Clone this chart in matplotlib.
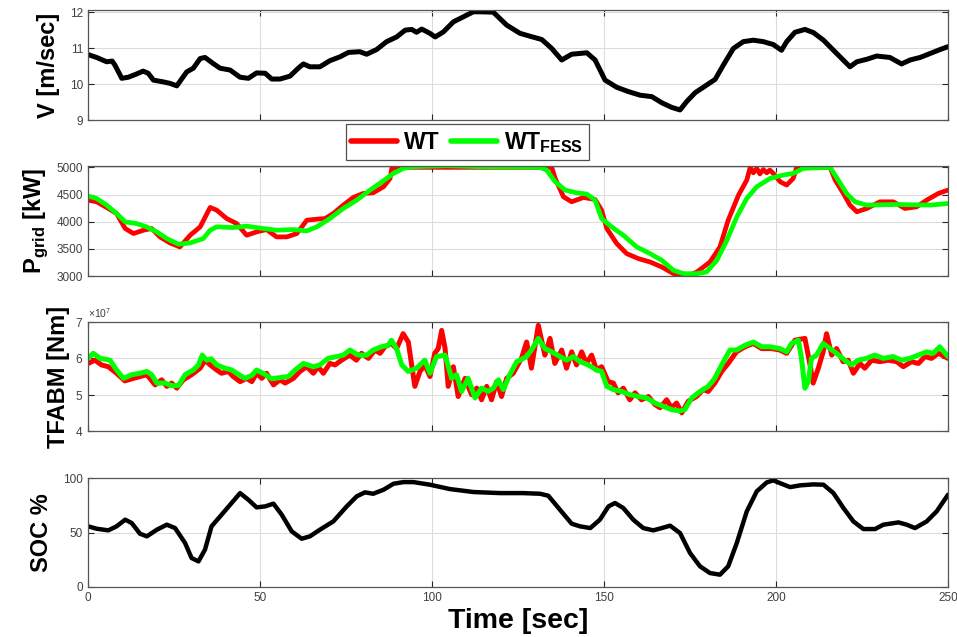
import numpy as np
import matplotlib
matplotlib.use("Agg")
import matplotlib.pyplot as plt
from matplotlib.ticker import ScalarFormatter

plt.rcParams['font.family'] = ['Liberation Sans', 'DejaVu Sans']
plt.rcParams['mathtext.fontset'] = 'custom'
plt.rcParams['mathtext.rm'] = 'Liberation Sans'
plt.rcParams['mathtext.bf'] = 'Liberation Sans:bold'

# wind speed [m/s]
t_v = [0, 2.5, 5.4, 7, 7.8, 9.8, 11.7, 14.1, 16, 17.5, 19, 21.9, 23.8, 25.8, 27.2, 28.7,
       30.6, 32.6, 34, 36.4, 38.4, 41.3, 44.2, 46.6, 49, 51.5, 53.4, 55.8, 58.7, 61.1,
       62.6, 64.5, 67.4, 70.3, 73.3, 75.7, 79, 81, 83.9, 86.8, 89.7, 92.2, 94.1, 95.5,
       97, 99.4, 100.9, 103.3, 106.2, 109.1, 112, 114, 117.8, 121.7, 125.6, 128.5,
       131.9, 134.8, 137.7, 140.6, 145, 147.4, 150.3, 153.7, 157.1, 160.5, 163.9,
       166.8, 169.7, 172.1, 174, 176.5, 179.8, 182.3, 184.7, 187.6, 190.5, 193.4,
       196.3, 199.2, 201.6, 203.1, 205.5, 208.4, 210.9, 213.8, 216.7, 219.1, 221.5,
       223.5, 226.4, 229.3, 233.1, 236.5, 239, 241.9, 244.8, 247.7, 250]
v_wind = [10.82, 10.74, 10.62, 10.64, 10.53, 10.16, 10.19, 10.28, 10.36, 10.30, 10.11,
          10.06, 10.02, 9.95, 10.14, 10.34, 10.44, 10.71, 10.74, 10.57, 10.44, 10.39,
          10.19, 10.16, 10.31, 10.30, 10.14, 10.14, 10.22, 10.44, 10.56, 10.48, 10.48,
          10.65, 10.76, 10.88, 10.90, 10.83, 10.96, 11.18, 11.31, 11.50, 11.52, 11.44,
          11.53, 11.41, 11.31, 11.45, 11.73, 11.87, 12.01, 12.01, 12.00, 11.64, 11.41,
          11.33, 11.24, 10.99, 10.67, 10.83, 10.87, 10.67, 10.11, 9.91, 9.79, 9.69,
          9.65, 9.48, 9.35, 9.28, 9.51, 9.76, 9.97, 10.13, 10.53, 10.99, 11.18, 11.22,
          11.18, 11.10, 10.94, 11.18, 11.44, 11.52, 11.43, 11.22, 10.94, 10.71, 10.48,
          10.62, 10.69, 10.78, 10.74, 10.56, 10.67, 10.74, 10.85, 10.96, 11.04]

# grid power [kW], wind turbine alone
t_wt = [0, 2.5, 5.4, 8.3, 10.8, 13.2, 16.1, 18.5, 20.9, 23.8, 26.7, 29.7, 32.6, 35.5,
        37.4, 40.3, 43.2, 46.1, 49, 51.9, 54.8, 57.8, 60.7, 63.6, 66.5, 68.9, 71.3,
        74.2, 77.1, 80, 82.9, 85.9, 87.8, 88.3, 90.7, 110, 134.8, 135.8, 138.2, 140.6,
        144, 147.4, 149.3, 150.8, 153.7, 156.6, 160, 163.4, 166.8, 170.2, 173.5, 177,
        180.8, 183.7, 186.1, 189.1, 191.5, 192.5, 193.4, 194.4, 195.3, 196.3, 197.3,
        198.2, 199.2, 201.2, 203.1, 205, 206, 215.7, 217.2, 219.6, 221.5, 223.5, 226.4,
        230.2, 234.1, 237.5, 240.9, 243.8, 247.2, 250]
p_wt = [4397, 4366, 4262, 4151, 3874, 3782, 3843, 3874, 3720, 3609, 3535, 3751, 3905,
        4262, 4212, 4058, 3966, 3751, 3812, 3855, 3720, 3720, 3782, 4028, 4046, 4058,
        4151, 4305, 4446, 4520, 4532, 4643, 4797, 4982, 5000, 5000, 5000, 4797, 4458,
        4366, 4446, 4409, 4212, 3874, 3597, 3412, 3320, 3258, 3166, 3043, 2982, 3074,
        3258, 3535, 4028, 4489, 4766, 5000, 4900, 4980, 4880, 4960, 4900, 4950, 4889,
        4735, 4674, 4797, 5000, 5000, 4766, 4520, 4305, 4182, 4243, 4366, 4366, 4243,
        4274, 4397, 4520, 4582]

# grid power [kW], wind turbine with flywheel storage
t_fess = [0, 2.5, 5.4, 8.3, 10.8, 14.1, 17, 20, 22.9, 26.3, 29.7, 33.5, 35.5, 37.4,
          42.2, 46.1, 51, 54.8, 59.7, 63.6, 66.5, 70.3, 74.2, 78.1, 82, 85.9, 88.8,
          91.7, 94.6, 104.3, 115, 131.4, 133.3, 135.8, 138.7, 142, 145, 147.4, 149.3,
          152.2, 155.6, 159.5, 163.4, 166.8, 170.2, 173.1, 177, 179.8, 182.8, 185.7,
          188.6, 191.5, 194.4, 198.3, 202.1, 205, 208, 215.7, 218.1, 220.5, 223, 226.4,
          235.1, 244.8, 250]
p_fess = [4471, 4428, 4305, 4151, 3997, 3966, 3905, 3812, 3689, 3585, 3609, 3689, 3843,
          3905, 3892, 3917, 3874, 3843, 3855, 3831, 3905, 4058, 4243, 4397, 4582, 4754,
          4889, 4982, 5012, 5030, 5010, 5000, 4950, 4735, 4582, 4532, 4508, 4397, 4058,
          3905, 3751, 3535, 3412, 3289, 3105, 3043, 3043, 3074, 3289, 3658, 4089, 4428,
          4643, 4797, 4858, 4889, 4982, 5000, 4766, 4520, 4366, 4305, 4317, 4305, 4335]

# TFABM torque [x1e7 Nm]
t_tq_wt = [0, 2, 3.9, 5.9, 8.3, 10.7, 13.2, 15.1, 17.1, 19.5, 21.4, 22.9, 24.3, 25.8,
           27.7, 30.1, 32.6, 34, 35.5, 37.4, 38.8, 40.8, 42.2, 44.2, 46.1, 47.6, 49,
           50.5, 51.9, 53.9, 55.8, 57.3, 59.7, 61.6, 63.6, 65.5, 66.9, 68.4, 70.3, 71.8,
           73.7, 76.1, 78, 79.5, 81.5, 83.4, 84.9, 86.3, 88.2, 89.7, 91.6, 93.1, 95,
           96.5, 97.9, 99.4, 100.8, 101.8, 102.8, 103.8, 104.7, 106.2, 107.6, 109.6,
           111.5, 113, 114.4, 115.9, 117.3, 118.8, 120.2, 121.7, 123.6, 126, 127.5,
           128.9, 130.9, 132.8, 134.3, 135.7, 137.7, 139.1, 140.6, 142, 143.5, 144.9,
           146.4, 147.8, 149.3, 151.2, 152.7, 154.1, 155.6, 157.5, 159, 160.9, 162.9,
           164.8, 166.3, 168.2, 169.6, 171.1, 172.6, 174.5, 176.9, 178.8, 180.3, 182.2,
           184.2, 186.1, 188.5, 191, 193.4, 195.8, 198.7, 201.1, 203.1, 205.5, 208.4,
           209.9, 210.8, 212.3, 213.7, 214.7, 216.2, 217.6, 219.5, 221, 222.5, 224.4,
           225.8, 227.8, 230.2, 232.6, 235.1, 237, 239.4, 241.4, 243.3, 245.2, 247.2,
           250]
tq_wt = [5.86, 5.95, 5.82, 5.77, 5.59, 5.38, 5.45, 5.50, 5.55, 5.27, 5.41, 5.23, 5.32,
         5.18, 5.41, 5.55, 5.73, 5.95, 5.82, 5.68, 5.59, 5.64, 5.50, 5.36, 5.45, 5.36,
         5.59, 5.45, 5.59, 5.27, 5.41, 5.32, 5.45, 5.64, 5.77, 5.59, 5.77, 5.59, 5.86,
         5.82, 5.95, 6.09, 5.95, 6.14, 6.00, 6.23, 6.14, 6.32, 6.41, 6.27, 6.68, 6.45,
         5.23, 5.64, 5.82, 5.50, 6.14, 6.27, 6.77, 6.27, 5.23, 5.77, 4.95, 5.45, 5.00,
         5.18, 4.86, 5.23, 4.86, 5.36, 4.95, 5.45, 5.59, 6.00, 6.45, 5.73, 6.91, 6.09,
         6.55, 5.86, 6.23, 5.73, 6.18, 5.82, 6.18, 5.86, 6.09, 5.68, 5.77, 5.36, 5.32,
         5.05, 5.18, 4.86, 5.05, 4.86, 4.95, 4.73, 4.64, 4.86, 4.64, 4.77, 4.50, 4.82,
         4.95, 5.14, 5.09, 5.32, 5.64, 5.86, 6.18, 6.32, 6.41, 6.27, 6.27, 6.23, 6.14,
         6.50, 6.55, 5.82, 5.32, 5.73, 6.18, 6.68, 6.09, 6.27, 5.91, 5.95, 5.59, 5.86,
         5.73, 5.95, 5.91, 5.95, 5.91, 5.77, 5.91, 5.86, 6.05, 6.00, 6.14, 6.00]

t_tq_fess = [0, 1.5, 3.5, 6.4, 8.3, 10.3, 12.7, 15.1, 17.1, 18.5, 20, 22.4, 24.3, 26.3,
             28.2, 30.6, 32.1, 33.2, 34.5, 35.8, 37.4, 39.8, 41.8, 43.7, 45.6, 47.6, 49,
             51.4, 53.4, 55.8, 58.2, 60.2, 62.6, 65.5, 67.4, 69.8, 72.3, 74.2, 76.1,
             78.6, 81, 82.9, 85.3, 87.3, 88.2, 89.7, 91.2, 93.1, 95.5, 97.9, 99.4, 101.3,
             103.8, 105.7, 107.1, 108.6, 110.5, 112.5, 114.4, 116.3, 117.8, 119.3, 120.7,
             122.6, 124.6, 125.6, 127.5, 128.9, 130.9, 132.8, 134.8, 137.2, 139.1, 141.1,
             143, 145.4, 147.8, 149.3, 150.8, 152.7, 155.1, 157.5, 160, 162.4, 164.8,
             167.2, 169.6, 172, 173.5, 175.5, 177.9, 180.3, 182.2, 184.2, 186.6, 188.5,
             191, 193.4, 195.8, 198.2, 201.1, 203.1, 204.5, 206.5, 207.4, 208.4, 209.4,
             210.3, 211.8, 213.7, 215.7, 217.6, 220, 221.9, 223.9, 226.3, 228.7, 231.2,
             234.1, 236.5, 238.9, 241.4, 243.8, 245.7, 247.6, 250]
tq_fess = [6.00, 6.14, 6.00, 5.95, 5.68, 5.45, 5.55, 5.59, 5.64, 5.55, 5.32, 5.32, 5.25,
           5.25, 5.55, 5.68, 5.82, 6.09, 5.95, 5.99, 5.82, 5.73, 5.68, 5.56, 5.45, 5.53,
           5.68, 5.56, 5.44, 5.47, 5.50, 5.68, 5.86, 5.77, 5.82, 6.00, 6.05, 6.09, 6.23,
           6.09, 6.09, 6.23, 6.32, 6.36, 6.50, 6.27, 5.82, 5.64, 5.73, 5.95, 5.59, 6.05,
           6.09, 5.45, 5.55, 5.09, 5.45, 4.91, 5.18, 5.09, 5.18, 5.41, 5.14, 5.55, 5.91,
           5.95, 6.05, 6.23, 6.55, 6.27, 6.18, 6.05, 5.95, 6.05, 5.91, 5.82, 5.68, 5.64,
           5.23, 5.14, 5.09, 5.00, 4.95, 4.91, 4.77, 4.68, 4.59, 4.55, 4.59, 4.91, 5.09,
           5.23, 5.45, 5.82, 6.23, 6.23, 6.36, 6.45, 6.32, 6.32, 6.27, 6.18, 6.41, 6.50,
           6.00, 5.18, 5.36, 6.00, 6.09, 6.41, 6.27, 6.14, 5.95, 5.82, 5.95, 6.00, 6.09,
           6.00, 6.05, 5.95, 6.00, 6.09, 6.18, 6.14, 6.32, 6.05]

# flywheel state of charge [%]
t_soc = [0, 2.5, 5.9, 8.3, 10.8, 12.7, 15.1, 17.1, 20, 22.9, 25.3, 28.2, 30.1, 32.1,
         34, 35.9, 38.4, 41.3, 44.2, 46.6, 49, 51.5, 53.9, 56.3, 59.2, 62.1, 64.5, 67.4,
         71.3, 75.2, 78.1, 80.5, 82.9, 85.9, 88.8, 91.7, 94.6, 99.4, 105.2, 112, 119.8,
         126.5, 131.4, 133.8, 137.2, 140.6, 143, 146, 148.8, 151.3, 153.2, 155.6, 158.5,
         161.4, 164.3, 166.8, 169.2, 172.1, 175, 177.9, 180.8, 183.7, 186.1, 188.6,
         191.5, 194.4, 197.3, 199.2, 201.6, 204.1, 207, 210.9, 213.8, 216.7, 219.6,
         222.5, 225.4, 228.8, 231.2, 235.6, 238, 240.4, 243.8, 246.7, 250]
soc = [55.7, 53.5, 52.0, 55.7, 61.8, 58.7, 48.9, 46.5, 52.6, 57.2, 54.1, 40.4, 26.6,
       23.5, 34.3, 55.7, 64.8, 75.5, 86.2, 80.1, 73.1, 74.0, 76.5, 66.4, 51.1, 44.3,
       46.5, 52.6, 60.2, 74.0, 83.2, 86.9, 85.6, 89.3, 94.8, 96.3, 96.3, 93.9, 89.9,
       87.2, 86.2, 86.2, 85.6, 83.8, 70.9, 58.1, 55.7, 54.1, 61.8, 74.0, 77.1, 72.5,
       61.8, 54.1, 52.0, 54.1, 56.3, 49.5, 31.2, 19.0, 12.8, 11.3, 19.0, 40.4, 69.4,
       87.8, 96.0, 97.9, 94.8, 91.7, 93.3, 94.2, 93.9, 86.2, 72.5, 60.2, 53.2, 53.2,
       57.2, 59.3, 57.2, 54.1, 60.2, 69.4, 84.7]

AX_COLOR = '#262626'
TICK_COLOR = '#404040'
YLABEL_SIZE = 17
XLABEL_SIZE = 20.5

fig = plt.figure(figsize=(9.57, 6.37), dpi=100)
left, width = 0.092, 0.8986
ax1 = fig.add_axes([left, 0.8116, width, 0.1727])
ax2 = fig.add_axes([left, 0.5667, width, 0.1727])
ax3 = fig.add_axes([left, 0.3234, width, 0.1710])
ax4 = fig.add_axes([left, 0.0785, width, 0.1710])

line_kw = dict(solid_joinstyle='round', solid_capstyle='round')

ax1.plot(t_v, v_wind, color='black', lw=3.6, **line_kw)
ax1.set_ylim(9, 12.06)
ax1.set_yticks([9, 10, 11, 12])

ax2.plot(t_wt, p_wt, color='#ff0000', lw=3.4, label='WT', **line_kw)
ax2.plot(t_fess, p_fess, color='#00ff00', lw=3.4, label=r'WT$_{\mathbf{FESS}}$', **line_kw)
ax2.set_ylim(3000, 5025)
ax2.set_yticks([3000, 3500, 4000, 4500, 5000])

ax3.plot(t_tq_wt, np.array(tq_wt) * 1e7, color='#ff0000', lw=3.6, **line_kw)
ax3.plot(t_tq_fess, np.array(tq_fess) * 1e7, color='#00ff00', lw=3.6, **line_kw)
ax3.set_ylim(4e7, 7e7)
ax3.set_yticks([4e7, 5e7, 6e7, 7e7])
fmt = ScalarFormatter(useMathText=True)
fmt.set_powerlimits((0, 0))
ax3.yaxis.set_major_formatter(fmt)
ax3.yaxis.get_offset_text().set_fontsize(7.5)
ax3.yaxis.get_offset_text().set_color(TICK_COLOR)

ax4.plot(t_soc, soc, color='black', lw=3.2, **line_kw)
ax4.set_ylim(0, 100)
ax4.set_yticks([0, 50, 100])

for ax in (ax1, ax2, ax3, ax4):
    ax.set_xlim(0, 250)
    ax.set_xticks([0, 50, 100, 150, 200, 250])
    ax.grid(True, color='#dcdcdc', lw=0.8)
    ax.set_axisbelow(True)
    ax.tick_params(direction='in', top=True, right=True, length=4, width=0.8,
                   colors=AX_COLOR, labelcolor=TICK_COLOR, labelsize=8.5)
    for sp in ax.spines.values():
        sp.set_color('#555555')
        sp.set_linewidth(0.9)
    if ax is not ax4:
        ax.tick_params(labelbottom=False)

ax1.set_ylabel('V [m/sec]', fontsize=YLABEL_SIZE, fontweight='bold')
ax2.set_ylabel(r'P$_{\mathbf{grid}}$ [kW]', fontsize=YLABEL_SIZE, fontweight='bold')
ax3.set_ylabel('TFABM [Nm]', fontsize=YLABEL_SIZE, fontweight='bold')
ax4.set_ylabel('SOC %', fontsize=YLABEL_SIZE, fontweight='bold')
ax4.set_xlabel('Time [sec]', fontsize=XLABEL_SIZE, fontweight='bold', labelpad=3)

ax1.yaxis.set_label_coords(-0.033, 0.5)
ax2.yaxis.set_label_coords(-0.044, 0.5)
ax3.yaxis.set_label_coords(-0.021, 0.5)
ax4.yaxis.set_label_coords(-0.041, 0.5)

leg = ax2.legend(loc='center', bbox_to_anchor=(0.488, 0.777), bbox_transform=fig.transFigure,
                 ncol=2, frameon=True, fancybox=False, edgecolor='#262626',
                 prop={'weight': 'bold', 'size': 16.5}, handlelength=2.0, handletextpad=0.3,
                 columnspacing=0.5, borderpad=0.25, borderaxespad=0)
leg.get_frame().set_linewidth(0.9)
for ln in leg.get_lines():
    ln.set_linewidth(4)

fig.savefig('out.png', dpi=100)
